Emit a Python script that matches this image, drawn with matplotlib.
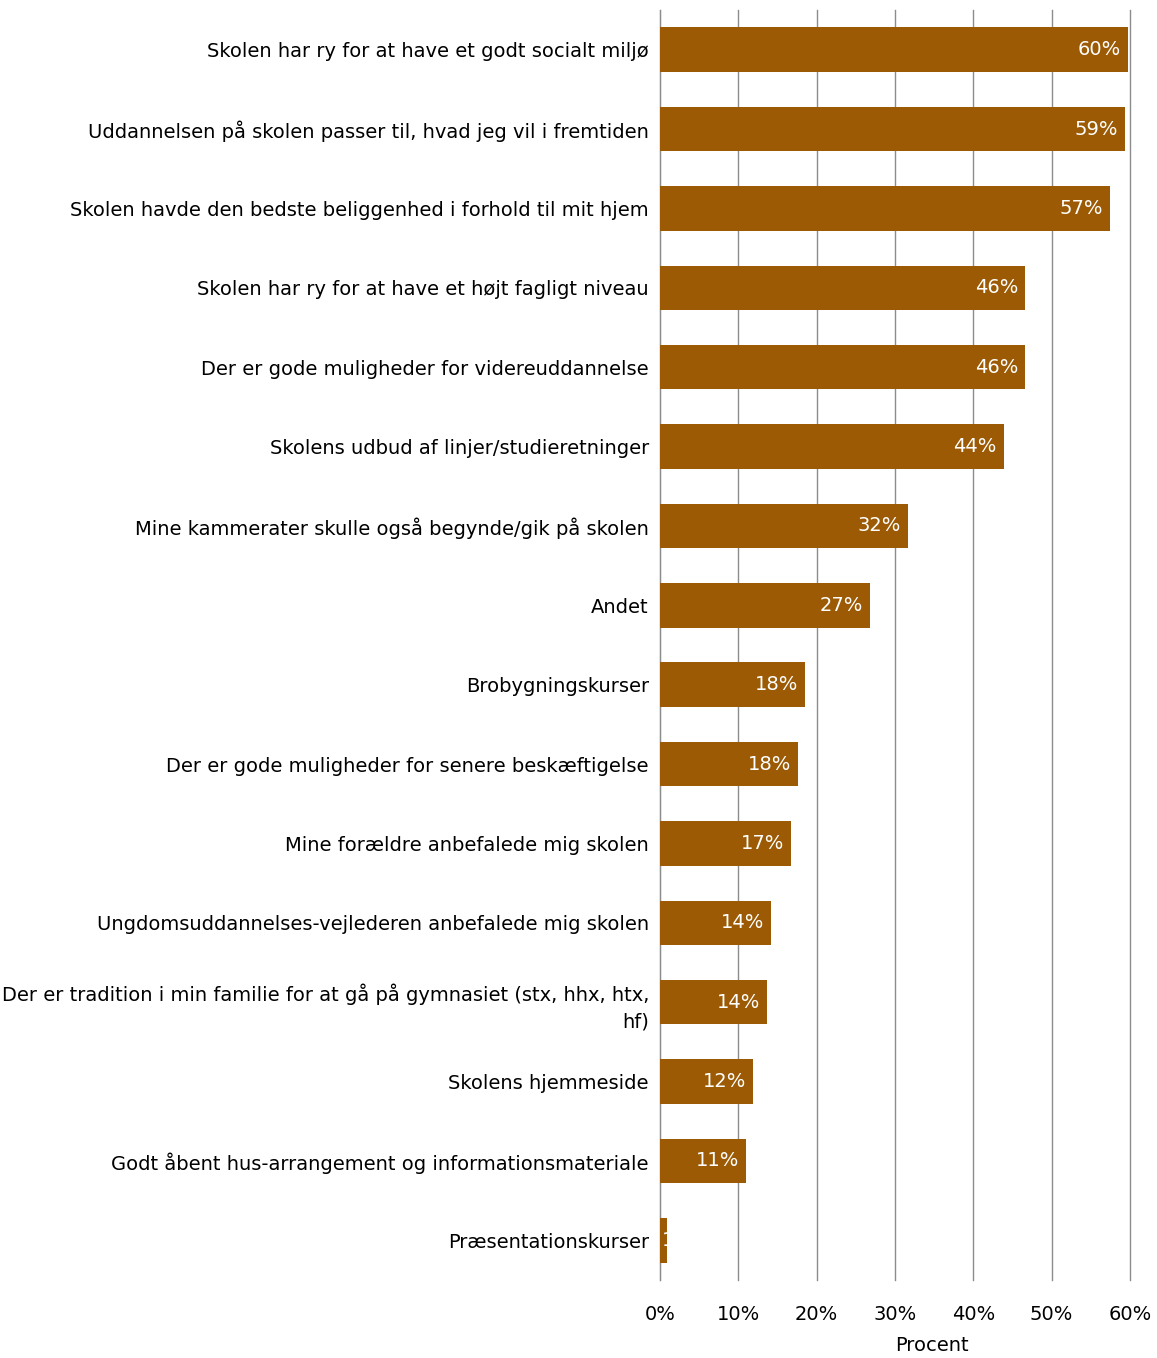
import matplotlib
matplotlib.use("Agg")
import matplotlib.pyplot as plt
from matplotlib.ticker import FuncFormatter

categories = [
    "Skolen har ry for at have et godt socialt miljø",
    "Uddannelsen på skolen passer til, hvad jeg vil i fremtiden",
    "Skolen havde den bedste beliggenhed i forhold til mit hjem",
    "Skolen har ry for at have et højt fagligt niveau",
    "Der er gode muligheder for videreuddannelse",
    "Skolens udbud af linjer/studieretninger",
    "Mine kammerater skulle også begynde/gik på skolen",
    "Andet",
    "Brobygningskurser",
    "Der er gode muligheder for senere beskæftigelse",
    "Mine forældre anbefalede mig skolen",
    "Ungdomsuddannelses-vejlederen anbefalede mig skolen",
    "Der er tradition i min familie for at gå på gymnasiet (stx, hhx, htx,\nhf)",
    "Skolens hjemmeside",
    "Godt åbent hus-arrangement og informationsmateriale",
    "Præsentationskurser",
]
values = [59.7, 59.4, 57.5, 46.6, 46.6, 43.9, 31.7, 26.8, 18.5, 17.6, 16.7,
          14.2, 13.7, 11.9, 11.0, 0.9]
value_labels = ["60%", "59%", "57%", "46%", "46%", "44%", "32%", "27%", "18%",
                "18%", "17%", "14%", "14%", "12%", "11%", "1%"]
ticks = [0, 10, 20, 30, 40, 50, 60]

plt.rcParams["font.family"] = ["DejaVu Sans"]
fig = plt.figure(figsize=(11.57, 13.58), dpi=100)
ax = fig.add_axes([660 / 1157, 78 / 1358, 470 / 1157, 1270 / 1358])

y = list(range(len(categories)))
bars = ax.barh(y, values, height=0.56, color="#9C5A04", zorder=3)
for bar, v, lab in zip(bars, values, value_labels):
    yc = bar.get_y() + bar.get_height() / 2
    if v > 5:
        t = ax.text(v - 0.9, yc, lab, ha="right", va="center",
                    color="white", fontsize=14, zorder=4)
    else:
        # bar too narrow: label gets cut off by the bar, as in the source
        t = ax.text(0.2, yc, lab, ha="left", va="center",
                    color="white", fontsize=14, zorder=4)
    t.set_clip_path(bar)

ax.set_ylim(len(categories) - 0.5, -0.5)
ax.set_xlim(0, 60)
ax.set_yticks(y)
ax.set_yticklabels(categories, fontsize=14, ha="right", linespacing=1.5)
ax.set_xticks(ticks)
ax.xaxis.set_major_formatter(FuncFormatter(lambda x, _: f"{x:.0f}%"))
ax.tick_params(axis="x", labelsize=14, length=0, pad=18)
ax.tick_params(axis="y", length=0, pad=8)
ax.grid(axis="x", color="#8c8c8c", linewidth=1, zorder=0)
for gl in ax.get_xgridlines():
    gl.set_clip_on(False)
for s in ["top", "right", "bottom"]:
    ax.spines[s].set_visible(False)
ax.spines["left"].set_color("#8c8c8c")
ax.set_xlabel("Procent", fontsize=14)
ax.xaxis.set_label_coords(0.579, -0.044)

fig.savefig("out.png", dpi=100)
